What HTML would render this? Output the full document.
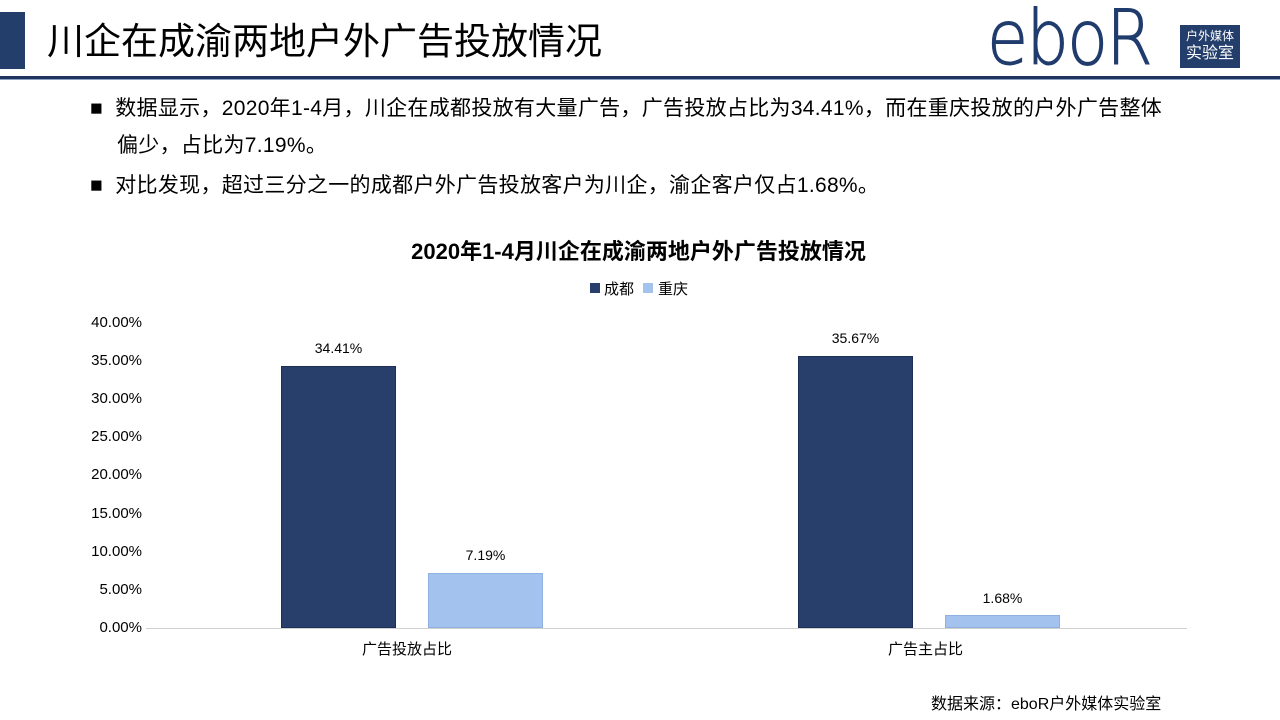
<!DOCTYPE html>
<html><head><meta charset="utf-8"><style>
body{margin:0;width:1280px;height:720px;background:#fff;position:relative;overflow:hidden;font-family:"Liberation Sans","Noto Sans CJK SC",sans-serif;color:#000}
.a{position:absolute;white-space:nowrap}
.yl{position:absolute;left:80px;width:62px;text-align:right;font-size:15px;font-family:"Liberation Sans",sans-serif}
.bar{position:absolute;box-sizing:border-box}
.d{background:#283f6b;border:1px solid #1d2f55}
.l{background:#a3c2ee;border:1px solid #8fb0e0}
.v{position:absolute;width:115px;text-align:center;font-size:14px;font-family:"Liberation Sans",sans-serif}
.t{font-size:21px;letter-spacing:0.3px;line-height:37px}
</style></head><body>
<div class="a" style="left:0;top:12px;width:25px;height:57px;background:#243e6b"></div>
<div class="a" style="left:47px;top:17px;font-size:37px;line-height:50px">川企在成渝两地户外广告投放情况</div>
<div class="a" style="left:0;top:76px;width:1280px;height:3px;background:#1f3560"></div>
<div class="a" style="left:0;top:79px;width:1280px;height:1px;background:#8da0bf"></div>
<div class="a" style="left:987px;top:-2px;font-size:76px;line-height:80px;color:#203c6c;font-family:'DejaVu Sans','Liberation Sans',sans-serif;font-weight:200;letter-spacing:-2px;transform:scaleX(0.88);transform-origin:left;-webkit-text-stroke:1px #203c6c">eboR</div>
<div class="a" style="left:1180px;top:25px;width:60px;height:43px;background:#243e6b;color:#fff;text-align:center;font-size:12px;line-height:15px"><div style="margin-top:4px">户外媒体</div><div style="font-size:16px;line-height:20px">实验室</div></div>
<div class="a t" style="left:90px;top:90px">■&nbsp;&nbsp;数据显示，2020年1-4月，川企在成都投放有大量广告，广告投放占比为34.41%，而在重庆投放的户外广告整体</div>
<div class="a t" style="left:117px;top:127px">偏少，占比为7.19%。</div>
<div class="a t" style="left:90px;top:167px">■&nbsp;&nbsp;对比发现，超过三分之一的成都户外广告投放客户为川企，渝企客户仅占1.68%。</div>
<div class="a" style="left:0;width:1277px;top:234px;text-align:center;font-size:22px;font-weight:bold">2020年1-4月川企在成渝两地户外广告投放情况</div>
<div class="a" style="left:590px;top:283px;width:10px;height:10px;background:#283f6b"></div>
<div class="a" style="left:604px;top:278px;font-size:15px">成都</div>
<div class="a" style="left:643px;top:283px;width:10px;height:10px;background:#a3c2ee"></div>
<div class="a" style="left:658px;top:278px;font-size:15px">重庆</div>
<div class="yl" style="top:314px">40.00%</div>
<div class="yl" style="top:352px">35.00%</div>
<div class="yl" style="top:390px">30.00%</div>
<div class="yl" style="top:428px">25.00%</div>
<div class="yl" style="top:466px">20.00%</div>
<div class="yl" style="top:505px">15.00%</div>
<div class="yl" style="top:543px">10.00%</div>
<div class="yl" style="top:581px">5.00%</div>
<div class="yl" style="top:619px">0.00%</div>
<div class="bar d" style="left:281px;top:366px;width:115px;height:262px"></div>
<div class="bar l" style="left:428px;top:573px;width:115px;height:55px"></div>
<div class="bar d" style="left:798px;top:356px;width:115px;height:272px"></div>
<div class="bar l" style="left:945px;top:615px;width:115px;height:13px"></div>
<div class="v" style="left:281px;top:340px">34.41%</div>
<div class="v" style="left:428px;top:547px">7.19%</div>
<div class="v" style="left:798px;top:330px">35.67%</div>
<div class="v" style="left:945px;top:590px">1.68%</div>
<div class="a" style="left:146px;top:628px;width:1041px;height:1px;background:#d0d0d0"></div>
<div class="a" style="left:362px;top:638px;font-size:15px">广告投放占比</div>
<div class="a" style="left:888px;top:638px;font-size:15px">广告主占比</div>
<div class="a" style="left:931px;top:690px;font-size:16px">数据来源：eboR户外媒体实验室</div>
</body></html>
